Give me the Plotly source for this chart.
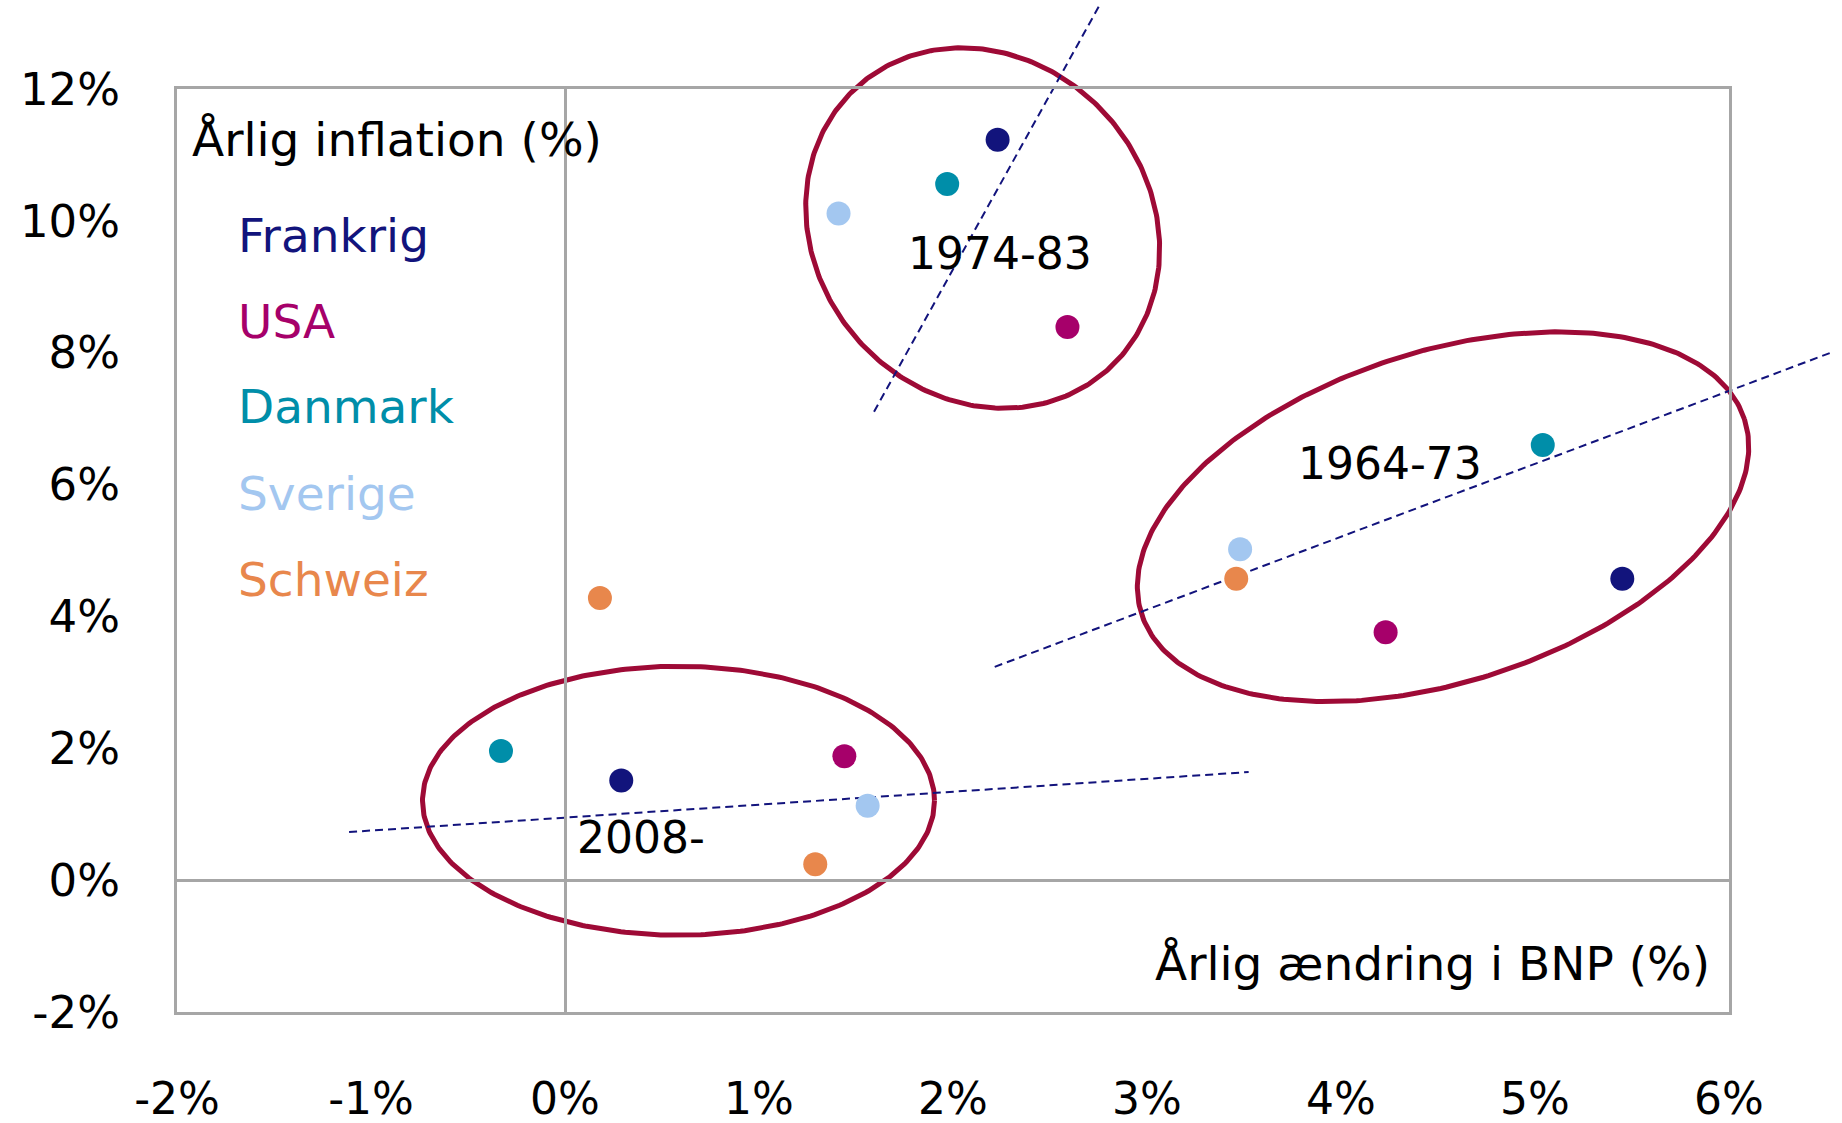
import numpy as np
import plotly.graph_objects as go

# ---------------- data ----------------
countries = ["Frankrig", "USA", "Danmark", "Sverige", "Schweiz"]
colors = ["#12147C", "#A6006A", "#008EA9", "#A3C7F0", "#E8874C"]

# (GDP growth %, inflation %) per period, order = countries
gdp_1964 = [5.45, 4.23, 5.04, 3.48, 3.46]
inf_1964 = [4.57, 3.76, 6.60, 5.02, 4.57]
gdp_1974 = [2.23, 2.59, 1.97, 1.41, 0.18]
inf_1974 = [11.23, 8.39, 10.56, 10.11, 4.28]
gdp_2008 = [0.29, 1.44, -0.33, 1.56, 1.29]
inf_2008 = [1.51, 1.88, 1.96, 1.13, 0.24]

periods = ["1964-73", "1974-83", "2008-"]
period_label_x = [4.25, 2.24, 0.39]
period_label_y = [6.32, 9.51, 0.64]

# dashed trend lines (endpoints)
trend_x = [[2.215, 6.536], [1.593, 2.751], [-1.113, 3.524]]
trend_y = [[3.235, 8.013], [7.105, 13.247], [0.730, 1.640]]

# ellipse centres (data units)
ell_cx = [4.526, 2.153, 0.585]
ell_cy = [5.512, 9.891, 1.204]

x_tickvals = [-2, -1, 0, 1, 2, 3, 4, 5, 6]
x_ticktext = ["-2%", "-1%", "0%", "1%", "2%", "3%", "4%", "5%", "6%"]
y_tickvals = [-2, 0, 2, 4, 6, 8, 10, 12]
y_ticktext = ["-2%", "0%", "2%", "4%", "6%", "8%", "10%", "12%"]

# ---------------- layout geometry ----------------
W, H = 1842, 1123
PX0, PX1, PY0, PY1 = 177, 1729, 89, 1012
XMIN, XMAX, YMIN, YMAX = -2, 6, -2, 12
sx = (PX1 - PX0) / (XMAX - XMIN)
sy = (PY1 - PY0) / (YMAX - YMIN)
x_full = [XMIN - PX0 / sx, XMAX + (W - PX1) / sx]
y_full = [YMIN - (H - PY1) / sy, YMAX + PY0 / sy]

# ellipse shape (pixels, rotation on screen)
ell_a = [316.8, 189.0, 256.0]
ell_b = [165.2, 167.6, 134.5]
ell_ang = [-17.9, 49.4, 0.0]

FONT = "DejaVu Sans"
GRAY = "#A6A6A6"
ELL_COL = "#9E0A36"
TREND_COL = "#12137C"

fig = go.Figure()

# full-canvas helper axes (x, y): ellipses and trend lines, not clipped by the frame
for i in range(3):
    t = np.linspace(0, 2 * np.pi, 361)
    th = np.deg2rad(ell_ang[i])
    dx = ell_a[i] * np.cos(t) * np.cos(th) - ell_b[i] * np.sin(t) * np.sin(th)
    dy = ell_a[i] * np.cos(t) * np.sin(th) + ell_b[i] * np.sin(t) * np.cos(th)
    fig.add_trace(go.Scatter(
        x=ell_cx[i] + dx / sx, y=ell_cy[i] - dy / sy, mode="lines",
        line=dict(color=ELL_COL, width=5), xaxis="x", yaxis="y",
        hoverinfo="skip", showlegend=False))

for i in range(3):
    fig.add_trace(go.Scatter(
        x=trend_x[i], y=trend_y[i], mode="lines",
        line=dict(color=TREND_COL, width=2, dash="8px,5px"),
        xaxis="x", yaxis="y", hoverinfo="skip", showlegend=False))

# country points on visible axes
for i, c in enumerate(countries):
    fig.add_trace(go.Scatter(
        x=[gdp_1964[i], gdp_1974[i], gdp_2008[i]],
        y=[inf_1964[i], inf_1974[i], inf_2008[i]],
        mode="markers", name=c,
        marker=dict(color=colors[i], size=24),
        xaxis="x2", yaxis="y2", showlegend=False,
        cliponaxis=False))

annotations = []
for i, p in enumerate(periods):
    annotations.append(dict(
        x=period_label_x[i], y=period_label_y[i], xref="x2", yref="y2",
        text=p, showarrow=False, xanchor="center", yanchor="middle",
        font=dict(family=FONT, size=44, color="black")))

# legend-like labels
annotations.append(dict(
    x=-1.935, y=11.24, xref="x2", yref="y2", text="Årlig inflation (%)",
    showarrow=False, xanchor="left", yanchor="middle",
    font=dict(family=FONT, size=47, color="black")))
leg_y = [9.78, 8.47, 7.18, 5.86, 4.56]
for i, c in enumerate(countries):
    annotations.append(dict(
        x=-1.695, y=leg_y[i], xref="x2", yref="y2", text=c,
        showarrow=False, xanchor="left", yanchor="middle",
        font=dict(family=FONT, size=47, color=colors[i])))

annotations.append(dict(
    x=5.91, y=-1.26, xref="x2", yref="y2", text="Årlig ændring i BNP (%)",
    showarrow=False, xanchor="right", yanchor="middle",
    font=dict(family=FONT, size=47, color="black")))

fig.update_layout(
    width=W, height=H,
    margin=dict(l=0, r=0, t=0, b=0, pad=0, autoexpand=False),
    paper_bgcolor="white", plot_bgcolor="rgba(0,0,0,0)",
    showlegend=False,
    font=dict(family=FONT, size=44, color="black"),
    xaxis=dict(domain=[0, 1], range=x_full, visible=False, anchor="y",
               fixedrange=True, automargin=False),
    yaxis=dict(domain=[0, 1], range=y_full, visible=False, anchor="x",
               fixedrange=True, automargin=False),
    xaxis2=dict(domain=[PX0 / W, PX1 / W], range=[XMIN, XMAX], anchor="y2",
                tickvals=x_tickvals, ticktext=x_ticktext, automargin=False,
                showgrid=False, showline=True, mirror=True,
                linecolor=GRAY, linewidth=3,
                zeroline=True, zerolinecolor=GRAY, zerolinewidth=3,
                ticks="", ticklabelstandoff=46,
                tickfont=dict(family=FONT, size=44, color="black")),
    yaxis2=dict(domain=[1 - PY1 / H, 1 - PY0 / H], range=[YMIN, YMAX], anchor="x2",
                tickvals=y_tickvals, ticktext=y_ticktext, automargin=False,
                showgrid=False, showline=True, mirror=True,
                linecolor=GRAY, linewidth=3,
                zeroline=True, zerolinecolor=GRAY, zerolinewidth=3,
                ticks="", ticklabelstandoff=45,
                tickfont=dict(family=FONT, size=45, color="black")),
    annotations=annotations,
)

fig.write_html(
    "out.html",
    config={"displayModeBar": False},
    post_script="document.body.style.margin='0px';document.body.style.overflow='hidden';",
)
